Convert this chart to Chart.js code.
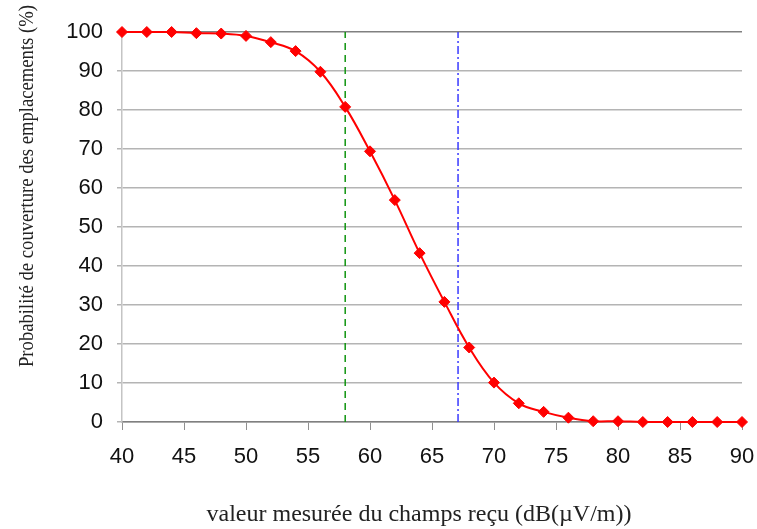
<!DOCTYPE html>
<html>
<head>
<meta charset="utf-8">
<script src="https://cdn.jsdelivr.net/npm/chart.js@4"></script>
<style>
  html, body { margin: 0; padding: 0; background: #fff; }
  #wrap { width: 757px; height: 529px; }
</style>
</head>
<body>
<div id="wrap"><canvas id="myChart" width="757" height="529"></canvas></div>
<script>
'use strict';

// field strength (dB(uV/m)) and location coverage probability (%)
const fieldValues = [40, 42, 44, 46, 48, 50, 52, 54, 56, 58, 60, 62, 64, 66, 68, 70, 72, 74, 76, 78, 80, 82, 84, 86, 88, 90];
const coverage = [100, 100, 100, 99.7, 99.6, 99, 97.4, 95.1, 89.8, 80.8, 69.4, 56.9, 43.3, 30.8, 19.1, 10.1, 4.8, 2.6, 1.1, 0.2, 0.2, 0, 0, 0, 0, 0];

// reference markers
const greenLineX = [58, 58];
const blueLineX = [67.1, 67.1];
const markerLineY = [0, 100];

const xTitle = 'valeur mesurée du champs reçu (dB(µV/m))';
const yTitle = 'Probabilité de couverture des emplacements (%)';

function toPoints(xs, ys) {
  return xs.map((x, i) => ({ x: x, y: ys[i] }));
}

// axis titles drawn where the original puts them
const titlePlugin = {
  id: 'titles',
  afterDraw(chart) {
    const ctx = chart.ctx;
    ctx.save();
    ctx.fillStyle = '#222';
    ctx.textAlign = 'center';
    ctx.font = '24px "Liberation Serif"';
    ctx.textBaseline = 'alphabetic';
    ctx.fillText(xTitle, 419, 521);
    // y title is a bit squeezed along its length in the original
    ctx.font = '22px "Liberation Serif"';
    ctx.textBaseline = 'middle';
    const w = ctx.measureText(yTitle).width;
    ctx.translate(27, 186);
    ctx.rotate(-Math.PI / 2);
    ctx.scale(362 / w, 1);
    ctx.fillText(yTitle, 0, 0);
    ctx.restore();
  }
};

const tickFont = { family: '"Liberation Sans"', size: 22 };

const config = {
  type: 'line',
  data: {
    datasets: [
      {
        data: toPoints(fieldValues, coverage),
        borderColor: '#ff0000',
        backgroundColor: '#ff0000',
        borderWidth: 2,
        tension: 0.4,
        pointStyle: 'rectRot',
        pointRadius: 5.5,
        pointBorderWidth: 1,
        clip: false,
        order: 0
      },
      {
        data: toPoints(greenLineX, markerLineY),
        borderColor: '#109410',
        borderWidth: 1.5,
        borderDash: [7, 5],
        pointRadius: 0,
        order: 1
      },
      {
        data: toPoints(blueLineX, markerLineY),
        borderColor: '#3a3aff',
        borderWidth: 1.5,
        borderDash: [8, 3, 2, 3],
        pointRadius: 0,
        order: 1
      }
    ]
  },
  options: {
    responsive: false,
    animation: false,
    layout: { padding: { top: 32, right: 15, left: 0, bottom: 0 } },
    plugins: {
      legend: { display: false },
      tooltip: { enabled: false }
    },
    scales: {
      x: {
        type: 'linear',
        min: 40,
        max: 90,
        afterFit(scale) {
          scale.height = 107;
          scale.paddingLeft = 0;
          scale.paddingRight = 0;
        },
        ticks: { stepSize: 5, color: '#111', font: tickFont, padding: 14, maxRotation: 0 },
        grid: { drawOnChartArea: false, drawTicks: true, tickLength: 8, color: '#909090' },
        border: { color: '#808080', width: 1.5 }
      },
      y: {
        min: 0,
        max: 100,
        afterFit(scale) { scale.width = 122; },
        ticks: { stepSize: 10, color: '#111', font: tickFont, padding: 14 },
        grid: {
          tickLength: 5,
          lineWidth: 1.5,
          color: ctx => ctx.tick && ctx.tick.value === 100 ? '#808080' : '#b4b4b4'
        },
        border: { color: '#c4c4c4', width: 1.5 }
      }
    }
  },
  plugins: [titlePlugin]
};

const myChart = new Chart(document.getElementById('myChart'), config);
</script>
</body>
</html>
